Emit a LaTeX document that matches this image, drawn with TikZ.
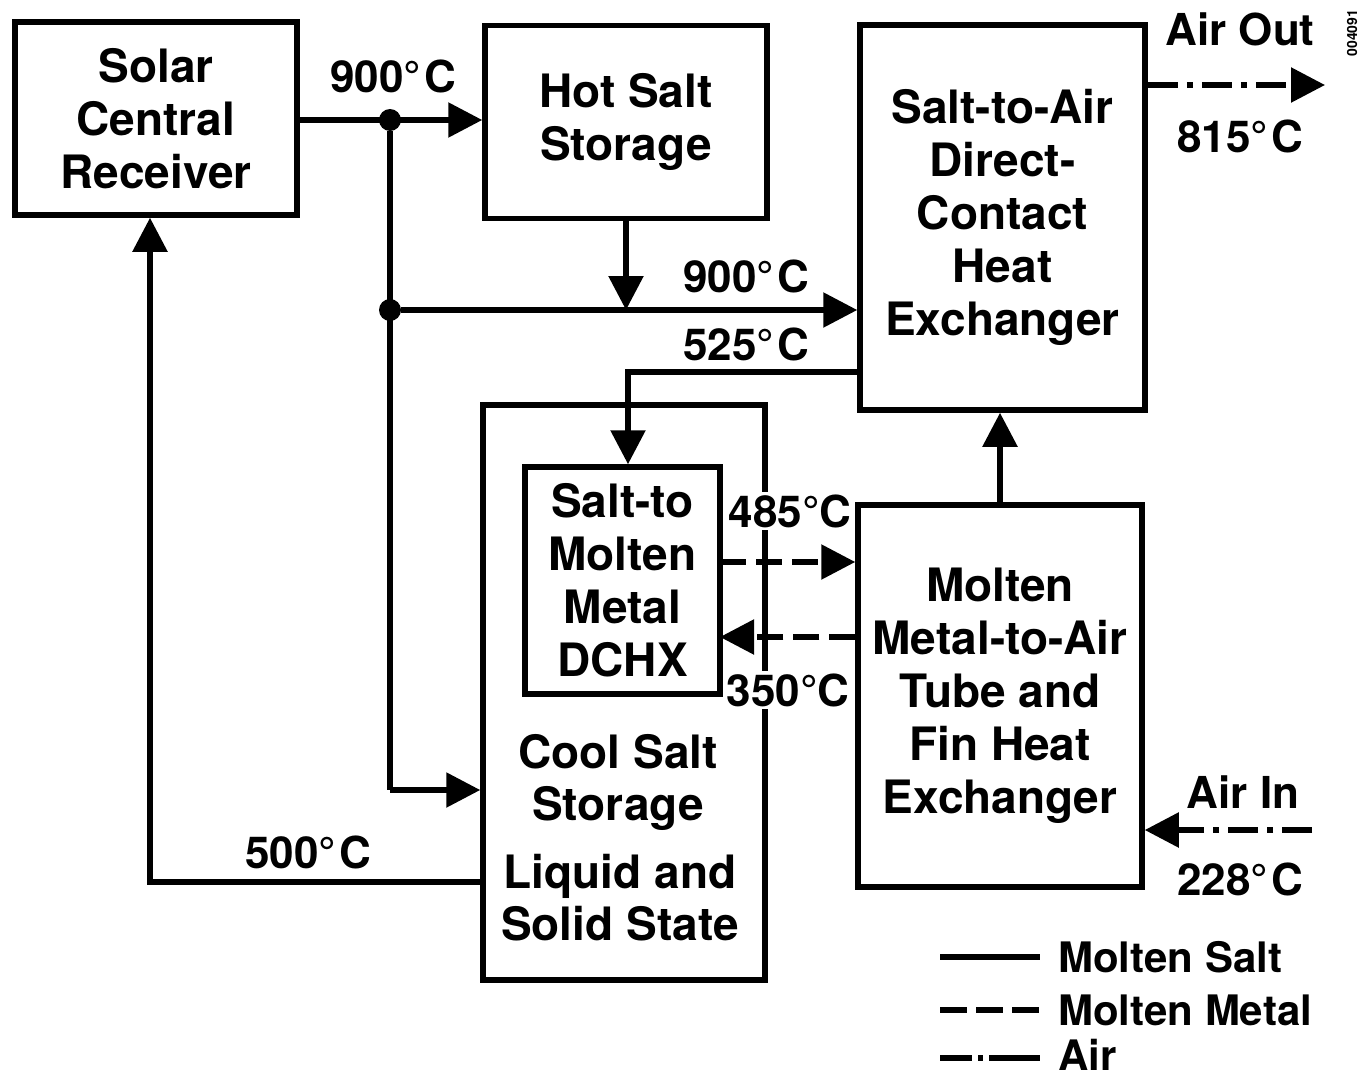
\documentclass[tikz,border=0pt]{standalone}
\usepackage{fontspec}
\setmainfont{TeX Gyre Heros}
\usetikzlibrary{arrows.meta}
\newcommand\bxfont{\fontsize{46}{53}\selectfont\bfseries}
\newcommand\lbfont{\fontsize{44}{53}\selectfont\bfseries}
\newcommand\lgfont{\fontsize{42}{53}\selectfont\bfseries}
\newcommand\dg{°\kern3pt C}
\begin{document}
\begin{tikzpicture}[x=1pt,y=-1pt,
  box/.style={draw,line width=5.5pt,align=center,font=\bxfont,inner sep=0pt},
  lbl/.style={font=\lbfont,inner sep=0pt,anchor=base},
  lgd/.style={font=\lgfont,inner sep=0pt,anchor=base west},
  conn/.style={line width=5.5pt},
  arr/.style={conn,-{Triangle[length=34pt,width=34pt]}},
  metal/.style={dash pattern=on 26pt off 10pt},
  air/.style={dash pattern=on 30pt off 9pt on 6pt off 9pt},
  jdot/.style={circle,fill,inner sep=0pt,minimum size=22pt}]
\useasboundingbox (0,0) rectangle (1365,1079);

% boxes
\node[box,minimum width=282pt,minimum height=193pt] (recv) at (156,118.5) {Solar\\Central\\Receiver};
\node[box,minimum width=282pt,minimum height=193pt] (hot) at (626,122) {Hot Salt\\Storage};
\node[box,minimum width=285pt,minimum height=385pt] (sta) at (1002.5,217.5) {Salt-to-Air\\Direct-\\Contact\\Heat\\Exchanger};
\node[box,minimum width=282pt,minimum height=575pt] (cool) at (624,692.5) {};
\node[box,minimum width=195pt,minimum height=227pt] (dchx) at (622.5,580.5) {Salt-to\\Molten\\Metal\\DCHX};
\node[box,minimum width=284pt,minimum height=382pt] (mma) at (1000,696) {Molten\\Metal-to-Air\\Tube and\\Fin Heat\\Exchanger};

% cool salt storage text
\node[lbl,font=\bxfont] (t1) at (618,768) {Cool Salt};
\node[lbl,font=\bxfont] (t2) at (618,820) {Storage};
\node[lbl,font=\bxfont] (t3) at (620,888) {Liquid and};
\node[lbl,font=\bxfont] (t4) at (620,940) {Solid State};

% junctions and coordinates
\node[jdot] (j1) at (390,120) {};
\node[jdot] (j2) at (390,310) {};
\coordinate (c790) at (390,790);
\coordinate (c372) at (860,372);
\coordinate (c628) at (628,372);
\coordinate (m1) at (720,562);
\coordinate (m2) at (720,637);
\coordinate (aout) at (1325,85);
\coordinate (ain) at (1312,830);
\coordinate (r1) at (483,882);
\coordinate (r2) at (150,882);

% molten salt connectors
\draw[arr] (recv.east |- j1) -- (hot.west |- j1);
\draw[conn] (j1) -- (c790);
\draw[arr] (c790) -- (cool.west |- c790);
\draw[arr] (j2) -- (sta.west |- j2);
\draw[arr] (hot.south) -- (hot.south |- j2);
\draw[arr] (c372) -- (c628) -- (c628 |- dchx.north);
\draw[arr] (r1) -- (r2) -- (r2 |- recv.south);
\draw[arr] (mma.north) -- (mma.north |- sta.south);

% molten metal
\draw[arr,metal] (m1) -- (mma.west |- m1);
\draw[arr,metal] (mma.west |- m2) -- (m2);

% air
\draw[arr,air] (sta.east |- aout) -- (aout);
\draw[arr,air] (ain) -- (mma.east |- ain);

% labels
\node[lbl] (l900a) at (393,92) {900\dg};
\node[lbl] (l900b) at (746,292) {900\dg};
\node[lbl] (l525) at (746,360) {525\dg};
\node[lbl,fill=white,inner sep=2pt] (l485) at (790,527) {485°C};
\node[lbl,fill=white,inner sep=2pt] (l350) at (788,706) {350°C};
\node[lbl] (l500) at (308,868) {500\dg};
\node[lbl] (lao) at (1240,45) {Air Out};
\node[lbl] (l815) at (1240,152) {815\dg};
\node[lbl] (lai) at (1243,808) {Air In};
\node[lbl] (l228) at (1240,895) {228\dg};

% legend
\coordinate (g1a) at (940,957); \coordinate (g1b) at (1040,957);
\coordinate (g2a) at (940,1010); \coordinate (g2b) at (1040,1010);
\coordinate (g3a) at (940,1058); \coordinate (g3b) at (1040,1058);
\draw[conn] (g1a) -- (g1b);
\draw[conn,dash pattern=on 27pt off 9pt] (g2a) -- (g2b);
\draw[conn,dash pattern=on 32pt off 6pt on 5pt off 6pt on 60pt] (g3a) -- (g3b);
\node[lgd] (lg1) at (1058,972) {Molten Salt};
\node[lgd] (lg2) at (1058,1025) {Molten Metal};
\node[lgd] (lg3) at (1058,1070) {Air};

% figure number
\node[rotate=90,font=\fontsize{14}{16}\selectfont\bfseries,inner sep=0pt] (fig) at (1352,33) {004091};
\end{tikzpicture}
\end{document}
